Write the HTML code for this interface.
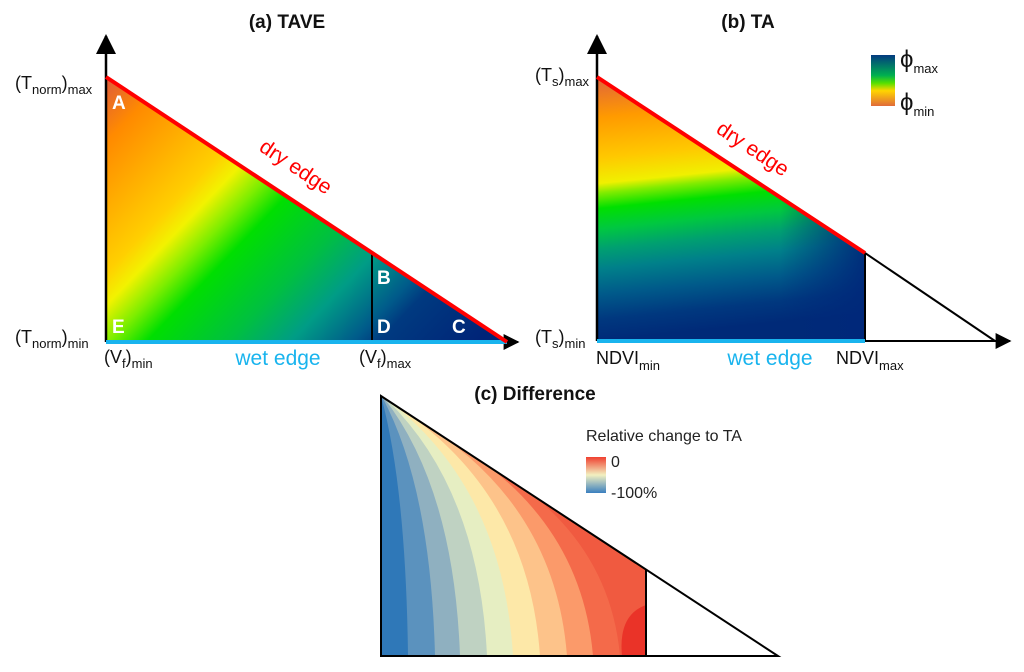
<!DOCTYPE html>
<html><head><meta charset="utf-8"><style>
body{margin:0;background:#fff;overflow:hidden}
svg{display:block;font-family:"Liberation Sans","DejaVu Sans",sans-serif}
.lb{font-size:18px;fill:#111}
.sb{font-size:13px}
.tt{font-size:19px;font-weight:bold;fill:#111}
.let{font-size:19px;font-weight:bold;fill:#fff}
</style></head><body>
<svg id="fig" width="1024" height="672" viewBox="0 0 1024 672">
<defs>
<marker id="arr" viewBox="0 0 10 10" refX="9" refY="5" markerWidth="8" markerHeight="8" orient="auto"><path d="M0,0L10,5L0,10z" fill="#000"/></marker>
<linearGradient id="gA" gradientUnits="userSpaceOnUse" x1="106" y1="77" x2="432" y2="390"></linearGradient>
<linearGradient id="gB" gradientUnits="userSpaceOnUse" x1="597" y1="341" x2="570" y2="77"></linearGradient>
<linearGradient id="gBr" gradientUnits="userSpaceOnUse" x1="780" y1="0" x2="865" y2="0">
<stop offset="0" stop-color="#00287a" stop-opacity="0"/><stop offset="1" stop-color="#00287a" stop-opacity="0.92"/></linearGradient>
<linearGradient id="cbB" x1="0" y1="1" x2="0" y2="0"></linearGradient>
<linearGradient id="cbC" x1="0" y1="1" x2="0" y2="0"></linearGradient>
<clipPath id="clipC"><polygon points="381,396 646,569 646,656 381,656"/></clipPath>
</defs>

<g>
<text class="tt" x="287" y="28" text-anchor="middle">(a) TAVE</text>
<polygon points="106,77 507,342 106,342" fill="url(#gA)"/>
<line x1="372" y1="253" x2="372" y2="342" stroke="#000" stroke-width="2"/>
<line x1="106" y1="342" x2="106" y2="36" stroke="#000" stroke-width="2.5" marker-end="url(#arr)"/>
<line x1="106" y1="342" x2="518" y2="342" stroke="#000" stroke-width="2" marker-end="url(#arr)"/>
<line x1="106" y1="342" x2="507" y2="342" stroke="#19b4ee" stroke-width="4"/>
<line x1="106" y1="77" x2="507" y2="342" stroke="#f00" stroke-width="4"/>
<text x="258" y="150" transform="rotate(33.5 258 150)" font-size="21" fill="#f00">dry edge</text>
<text class="let" x="112" y="109">A</text>
<text class="let" x="112" y="333">E</text>
<text class="let" x="377" y="284">B</text>
<text class="let" x="377" y="333">D</text>
<text class="let" x="452" y="333">C</text>
<text class="lb" x="15" y="89">(T<tspan class="sb" dy="5">norm</tspan><tspan dy="-5">)</tspan><tspan class="sb" dy="5">max</tspan></text>
<text class="lb" x="15" y="343">(T<tspan class="sb" dy="5">norm</tspan><tspan dy="-5">)</tspan><tspan class="sb" dy="5">min</tspan></text>
<text class="lb" x="104" y="363">(V<tspan class="sb" dy="5">f</tspan><tspan dy="-5">)</tspan><tspan class="sb" dy="5">min</tspan></text>
<text class="lb" x="359" y="363">(V<tspan class="sb" dy="5">f</tspan><tspan dy="-5">)</tspan><tspan class="sb" dy="5">max</tspan></text>
<text x="278" y="365" text-anchor="middle" font-size="21" fill="#19b4ee">wet edge</text>
</g>

<g>
<text class="tt" x="748" y="28" text-anchor="middle">(b) TA</text>
<polygon points="597,77 865,253 865,341 597,341" fill="url(#gB)"/>
<polygon points="597,77 865,253 865,341 597,341" fill="url(#gBr)"/>
<polyline points="865,253 995,341" fill="none" stroke="#000" stroke-width="2"/>
<line x1="865" y1="253" x2="865" y2="341" stroke="#000" stroke-width="2"/>
<line x1="597" y1="341" x2="597" y2="36" stroke="#000" stroke-width="2.5" marker-end="url(#arr)"/>
<line x1="597" y1="341" x2="1010" y2="341" stroke="#000" stroke-width="2" marker-end="url(#arr)"/>
<line x1="597" y1="341" x2="865" y2="341" stroke="#19b4ee" stroke-width="4"/>
<line x1="597" y1="77" x2="865" y2="253" stroke="#f00" stroke-width="4"/>
<text x="715" y="132" transform="rotate(33.5 715 132)" font-size="21" fill="#f00">dry edge</text>
<text class="lb" x="535" y="81">(T<tspan class="sb" dy="5">s</tspan><tspan dy="-5">)</tspan><tspan class="sb" dy="5">max</tspan></text>
<text class="lb" x="535" y="343">(T<tspan class="sb" dy="5">s</tspan><tspan dy="-5">)</tspan><tspan class="sb" dy="5">min</tspan></text>
<text class="lb" x="596" y="364">NDVI<tspan class="sb" dy="6">min</tspan></text>
<text class="lb" x="836" y="364">NDVI<tspan class="sb" dy="6">max</tspan></text>
<text x="770" y="365" text-anchor="middle" font-size="21" fill="#19b4ee">wet edge</text>
<rect x="871" y="55" width="24" height="51" fill="url(#cbB)"/>
<text x="900" y="67" font-size="24" fill="#111">ϕ<tspan class="sb" dy="6">max</tspan></text>
<text x="900" y="110" font-size="24" fill="#111">ϕ<tspan class="sb" dy="6">min</tspan></text>
</g>

<g>
<text class="tt" x="535" y="400" text-anchor="middle">(c) Difference</text>
<g id="bandsC" clip-path="url(#clipC)"></g>
<polygon points="381,396 778,656 381,656" fill="none" stroke="#000" stroke-width="2"/>
<line x1="646" y1="569" x2="646" y2="656" stroke="#000" stroke-width="2"/>
<text x="586" y="441" font-size="16" fill="#222">Relative change to TA</text>
<rect x="586" y="457" width="20" height="36" fill="url(#cbC)"/>
<text x="611" y="467" font-size="16" fill="#222">0</text>
<text x="611" y="498" font-size="16" fill="#222">-100%</text>
</g>
</svg>
<script>
const tavePos=[0,0.1,0.3,0.35,0.41,0.47,0.6,0.7,0.8,0.84,1];
const taveCol=["#dd5a3c","#ff8a00","#ffcf00","#f2f200","#7fee00","#00df00","#00c040","#009c86","#005a8a","#003a80","#002478"];
const taPos=[0,0.08,0.174,0.269,0.345,0.42,0.496,0.553,0.59,0.686,0.837,1];
const taCol=["#002a78","#00387f","#005a8a","#00808a","#00a070","#00c840","#00e000","#80ec00","#f0f000","#ffc800","#ff9a00","#dd6040"];
const diffCol=["#2f78b8","#5b92be","#8fb0c0","#bfd2c2","#e6eec2","#fde8a8","#fdc38a","#fb9a6a","#f46a4a","#f05a40"];
const diffBottomX=[408,435,460,487,513,540,567,593,620];
const diffTopX=[381,382,384,387,392,402,418,442,475];
const cbB=[["0","#e06a3a"],["0.3","#ffd500"],["0.45","#55e000"],["0.6","#00b050"],["1","#033a80"]];
const cbC=[["0","#3a7fbf"],["0.5","#f2f0c0"],["1","#f04030"]];
const NS="http://www.w3.org/2000/svg";
function stops(id,pos,col){const g=document.getElementById(id);pos.forEach((p,i)=>{const s=document.createElementNS(NS,'stop');s.setAttribute('offset',p);s.setAttribute('stop-color',col[i]);g.appendChild(s);});}
stops('gA',tavePos,taveCol);
stops('gB',taPos,taCol);
stops('cbB',cbB.map(a=>a[0]),cbB.map(a=>a[1]));
stops('cbC',cbC.map(a=>a[0]),cbC.map(a=>a[1]));
const hy=x=>396+(x-381)*(260/397);
const bands=document.getElementById('bandsC');
const base=document.createElementNS(NS,'rect');
base.setAttribute('x',381);base.setAttribute('y',396);base.setAttribute('width',265);base.setAttribute('height',260);base.setAttribute('fill',diffCol[0]);


bands.appendChild(base);
diffBottomX.forEach((bx,i)=>{
  const tx=diffTopX[i],ty=hy(tx);
  const cx=bx-0.08*(bx-tx),cy=ty+0.35*(656-ty);
  const p=document.createElementNS(NS,'path');
  p.setAttribute('d',`M${tx},${ty} Q${cx},${cy} ${bx},656 L660,656 L660,${hy(660)} Z`);
  p.setAttribute('fill',diffCol[i+1]);
  
  
  bands.appendChild(p);
});
const spot=document.createElementNS(NS,'path');
spot.setAttribute('d','M646,605 Q618,615 622,656 L646,656 Z');
spot.setAttribute('fill','#ea3328');


bands.appendChild(spot);
</script>
</body></html>
